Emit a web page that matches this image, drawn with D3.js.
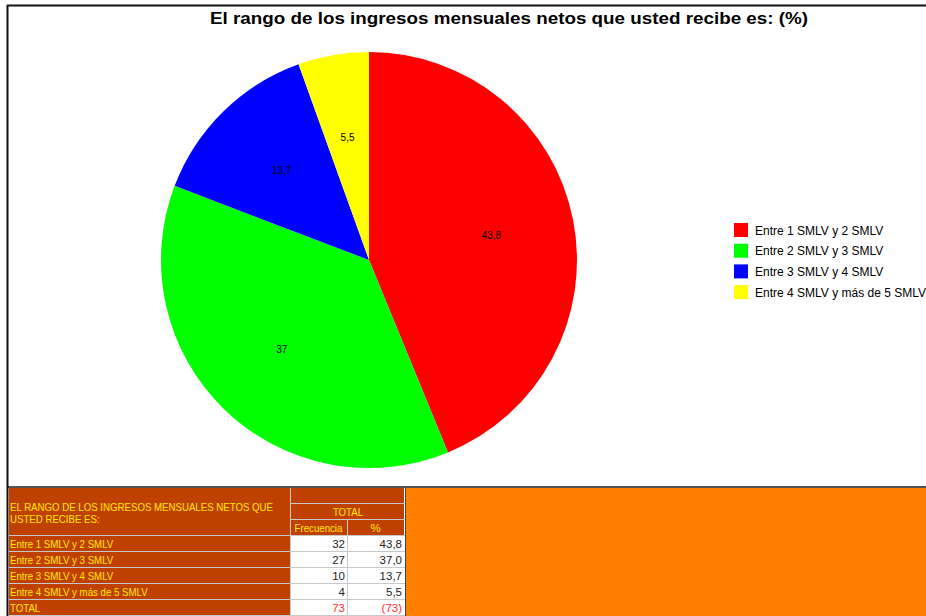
<!DOCTYPE html>
<html>
<head>
<meta charset="utf-8">
<script src="https://cdn.jsdelivr.net/npm/d3@7"></script>
<style>
  body { margin: 0; background: #fff; }
  svg { display: block; }
</style>
</head>
<body>
<script>
const w = 926;
const h = 616;

// data
const categories = ["Entre 1 SMLV y 2 SMLV", "Entre 2 SMLV y 3 SMLV", "Entre 3 SMLV y 4 SMLV", "Entre 4 SMLV y más de 5 SMLV"];
const frequencies = [32, 27, 10, 4];
const percents = [43.8, 37.0, 13.7, 5.5];
const colors = ["#ff0000", "#00ff00", "#0000ff", "#ffff00"];
const titleText = "El rango de los ingresos mensuales netos que usted recibe es: (%)";
const tableHeader = ["EL RANGO DE LOS INGRESOS MENSUALES NETOS QUE", "USTED RECIBE ES:"];
const totalFreq = 73;

const brown = "#c04000";
const gold = "#ffe800";
const font = "Arial, 'Liberation Sans', sans-serif";

const svg = d3.select("body").append("svg")
  .attr("width", w)
  .attr("height", h);

svg.append("rect").attr("width", w).attr("height", h).attr("fill", "#fff");

// chart frame
svg.append("line").attr("x1", 7).attr("x2", w).attr("y1", 5.5).attr("y2", 5.5)
  .attr("stroke", "#111").attr("stroke-width", 2);
svg.append("line").attr("x1", 7).attr("x2", w).attr("y1", 487).attr("y2", 487)
  .attr("stroke", "#555").attr("stroke-width", 2);
svg.append("line").attr("x1", 7.5).attr("x2", 7.5).attr("y1", 5).attr("y2", h)
  .attr("stroke", "#111").attr("stroke-width", 2);

// title
svg.append("text")
  .attr("x", 509).attr("y", 24)
  .attr("text-anchor", "middle")
  .attr("font-family", font)
  .attr("font-weight", "bold")
  .attr("font-size", 17)
  .attr("textLength", 598)
  .attr("lengthAdjust", "spacingAndGlyphs")
  .text(titleText);

// pie
const cx = 369, cy = 260, radius = 208;
const pie = d3.pie().sort(null).value(d => d);
const arcs = pie(percents);
const arc = d3.arc().innerRadius(0).outerRadius(radius);
const labelArc = d3.arc().innerRadius(radius * 0.6).outerRadius(radius * 0.6);
const fmtPie = v => (Math.round(v * 10) / 10).toString().replace(".", ",");

const g = svg.append("g").attr("transform", `translate(${cx},${cy})`);
g.selectAll("path")
  .data(arcs)
  .enter()
  .append("path")
  .attr("d", arc)
  .attr("fill", (d, i) => colors[i]);

g.selectAll("text")
  .data(arcs)
  .enter()
  .append("text")
  .attr("transform", d => `translate(${labelArc.centroid(d)})`)
  .attr("text-anchor", "middle")
  .attr("dy", "0.35em")
  .attr("font-family", font)
  .attr("font-size", 10)
  .attr("fill", "#000")
  .text(d => fmtPie(d.data));

// legend
const legend = svg.append("g").attr("transform", "translate(734,223)");
const legendItems = legend.selectAll("g")
  .data(categories)
  .enter()
  .append("g")
  .attr("transform", (d, i) => `translate(0,${i * 20.7})`);
legendItems.append("rect")
  .attr("width", 14).attr("height", 14)
  .attr("fill", (d, i) => colors[i]);
legendItems.append("text")
  .attr("x", 21).attr("y", 11.5)
  .attr("font-family", font)
  .attr("font-size", 12)
  .attr("fill", "#000")
  .text(d => d);

// table
const rowH = 16;
const tableTop = 488;
const colX = [9, 291, 348, 405];

const table = svg.append("g");

// orange block right of the table
table.append("rect").attr("x", 405).attr("y", tableTop).attr("width", w - 405).attr("height", h - tableTop)
  .attr("fill", "#ff8000");
table.append("line").attr("x1", 405.5).attr("x2", 405.5).attr("y1", tableTop).attr("y2", h)
  .attr("stroke", "#444").attr("stroke-width", 1);

// header cells
table.append("rect").attr("x", colX[0]).attr("y", tableTop).attr("width", colX[1] - colX[0] - 1).attr("height", rowH * 3 - 1)
  .attr("fill", brown);
table.append("rect").attr("x", colX[1]).attr("y", tableTop).attr("width", colX[3] - colX[1] - 1).attr("height", rowH - 1)
  .attr("fill", brown);
table.append("rect").attr("x", colX[1]).attr("y", tableTop + rowH).attr("width", colX[3] - colX[1] - 1).attr("height", rowH - 1)
  .attr("fill", brown);
table.append("rect").attr("x", colX[1]).attr("y", tableTop + rowH * 2).attr("width", colX[2] - colX[1] - 1).attr("height", rowH - 1)
  .attr("fill", brown);
table.append("rect").attr("x", colX[2]).attr("y", tableTop + rowH * 2).attr("width", colX[3] - colX[2] - 1).attr("height", rowH - 1)
  .attr("fill", brown);

// separators (grey grid)
table.append("rect").attr("x", colX[1] - 1).attr("y", tableTop).attr("width", 1).attr("height", h - tableTop).attr("fill", "#c8c8c8");
table.append("rect").attr("x", colX[1]).attr("y", tableTop + rowH - 1).attr("width", colX[3] - colX[1]).attr("height", 1).attr("fill", "#c8c8c8");
table.append("rect").attr("x", colX[1]).attr("y", tableTop + rowH * 2 - 1).attr("width", colX[3] - colX[1]).attr("height", 1).attr("fill", "#c8c8c8");
table.append("rect").attr("x", colX[2] - 1).attr("y", tableTop + rowH * 2).attr("width", 1).attr("height", h - tableTop - rowH * 2).attr("fill", "#c8c8c8");
table.append("rect").attr("x", colX[0]).attr("y", tableTop + rowH * 3 - 1).attr("width", colX[3] - colX[0]).attr("height", 1).attr("fill", "#c8c8c8");

function narrow(sel, ratio) {
  sel.each(function() {
    const len = this.getComputedTextLength();
    d3.select(this).attr("textLength", len * ratio).attr("lengthAdjust", "spacingAndGlyphs");
  });
}

const headerText = table.selectAll("text.hdr")
  .data(tableHeader)
  .enter()
  .append("text")
  .attr("class", "hdr")
  .attr("x", 10)
  .attr("y", (d, i) => 511 + i * 12)
  .attr("font-family", font)
  .attr("font-size", 11.5)
  .attr("fill", gold)
  .text(d => d);
narrow(headerText, 0.84);

const tot = table.append("text")
  .attr("x", (colX[1] + colX[3]) / 2).attr("y", tableTop + rowH + 12)
  .attr("text-anchor", "middle")
  .attr("font-family", font).attr("font-size", 11.5).attr("fill", gold)
  .text("TOTAL");
narrow(tot, 0.84);
const fr = table.append("text")
  .attr("x", (colX[1] + colX[2]) / 2 - 1).attr("y", tableTop + rowH * 2 + 12)
  .attr("text-anchor", "middle")
  .attr("font-family", font).attr("font-size", 11.5).attr("fill", gold)
  .text("Frecuencia");
narrow(fr, 0.84);
table.append("text")
  .attr("x", (colX[2] + colX[3]) / 2 - 1).attr("y", tableTop + rowH * 2 + 12)
  .attr("text-anchor", "middle")
  .attr("font-family", font).attr("font-size", 11.5).attr("fill", gold)
  .text("%");

// data rows
const rowLabels = categories.concat(["TOTAL"]);
const freqCells = frequencies.map(String).concat([String(totalFreq)]);
const pctCells = percents.map(v => v.toFixed(1).replace(".", ",")).concat(["(" + totalFreq + ")"]);

const rows = table.selectAll("g.row")
  .data(rowLabels)
  .enter()
  .append("g")
  .attr("class", "row")
  .attr("transform", (d, i) => `translate(0,${tableTop + rowH * (3 + i)})`);

rows.append("rect")
  .attr("x", colX[0]).attr("y", 0)
  .attr("width", colX[1] - colX[0] - 1).attr("height", rowH - 1)
  .attr("fill", brown);
rows.append("rect")
  .attr("x", colX[1]).attr("y", 0)
  .attr("width", colX[2] - colX[1] - 1).attr("height", rowH - 1)
  .attr("fill", "#fff");
rows.append("rect")
  .attr("x", colX[2]).attr("y", 0)
  .attr("width", colX[3] - colX[2] - 1).attr("height", rowH - 1)
  .attr("fill", "#fff");
rows.append("rect")
  .attr("x", colX[0]).attr("y", rowH - 1)
  .attr("width", colX[3] - colX[0]).attr("height", 1)
  .attr("fill", "#c8c8c8");

const rowText = rows.append("text")
  .attr("x", 10).attr("y", 12)
  .attr("font-family", font).attr("font-size", 11.5).attr("fill", gold)
  .text(d => d);
narrow(rowText, 0.84);

rows.append("text")
  .attr("x", colX[2] - 3).attr("y", 12)
  .attr("text-anchor", "end")
  .attr("font-family", font).attr("font-size", 11.5)
  .attr("fill", (d, i) => i === 4 ? "#ff3030" : "#222")
  .text((d, i) => freqCells[i]);
rows.append("text")
  .attr("x", colX[3] - 3).attr("y", 12)
  .attr("text-anchor", "end")
  .attr("font-family", font).attr("font-size", 11.5)
  .attr("fill", (d, i) => i === 4 ? "#ff3030" : "#222")
  .text((d, i) => pctCells[i]);
</script>
</body>
</html>
